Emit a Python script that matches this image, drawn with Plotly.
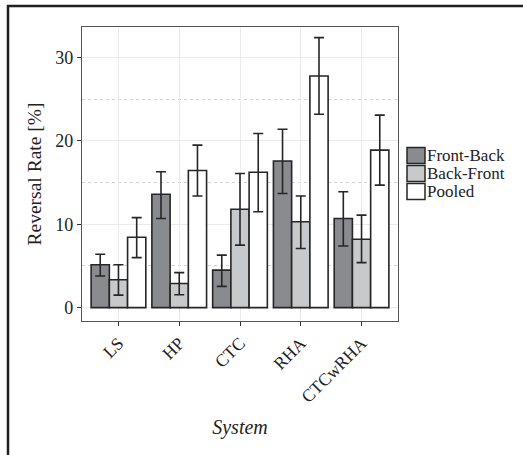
import plotly.graph_objects as go

systems = ["LS", "HP", "CTC", "RHA", "CTCwRHA"]
series_names = ["Front-Back", "Back-Front", "Pooled"]
front_back = [5.15, 13.6, 4.5, 17.6, 10.7]
front_back_hi = [6.4, 16.3, 6.3, 21.4, 13.9]
front_back_lo = [3.8, 10.7, 2.55, 13.7, 7.4]
back_front = [3.35, 2.9, 11.8, 10.3, 8.2]
back_front_hi = [5.15, 4.2, 16.1, 13.4, 11.1]
back_front_lo = [1.5, 1.55, 7.5, 7.1, 5.4]
pooled = [8.45, 16.45, 16.25, 27.8, 18.9]
pooled_hi = [10.8, 19.5, 20.9, 32.4, 23.1]
pooled_lo = [6.0, 13.4, 11.5, 23.2, 14.7]
y_ticks = [0, 10, 20, 30]

colors = ["#8a8b8f", "#c8c9cb", "#ffffff"]
W, H = 523, 455
ML, MR, MT, MB = 82, 125, 27, 134
FONT = "Liberation Serif"

fig = go.Figure()
data = [(front_back, front_back_hi, front_back_lo),
        (back_front, back_front_hi, back_front_lo),
        (pooled, pooled_hi, pooled_lo)]
for name, (vals, hi, lo), c in zip(series_names, data, colors):
    fig.add_trace(go.Bar(
        x=systems, y=vals, name=name, showlegend=False,
        marker=dict(color=c, line=dict(color="#262626", width=1.6)),
        error_y=dict(type="data", symmetric=False,
                     array=[h - v for h, v in zip(hi, vals)],
                     arrayminus=[v - l for v, l in zip(vals, lo)],
                     color="#262626", thickness=1.6, width=5),
    ))

fig.update_layout(
    width=W, height=H,
    margin=dict(l=ML, r=MR, t=MT, b=MB, pad=0),
    barmode="group", bargap=0.1, bargroupgap=0,
    paper_bgcolor="white", plot_bgcolor="white",
    font=dict(family=FONT, color="#222222", size=16),
    xaxis=dict(
        type="category", range=[-0.6, 4.6],
        showgrid=True, gridcolor="#ebebeb", gridwidth=1,
        showline=True, linecolor="#555555", linewidth=1.3, mirror=True,
        ticks="outside", ticklen=4, tickcolor="#333333",
        tickangle=-45, tickfont=dict(size=17.5, family=FONT, color="#222222"),
        title=dict(text="<i>System</i>", font=dict(size=20, family=FONT), standoff=14),
        zeroline=False,
    ),
    yaxis=dict(
        range=[-1.6, 33.67], tickvals=y_ticks,
        showgrid=True, gridcolor="#ebebeb", gridwidth=1,
        minor=dict(tickvals=[5, 15, 25], showgrid=True, gridcolor="#d4d4d4",
                   griddash="dot", gridwidth=1, ticks=""),
        showline=True, linecolor="#555555", linewidth=1.3, mirror=True,
        ticks="outside", ticklen=4, tickcolor="#333333",
        tickfont=dict(size=18, family=FONT, color="#222222"),
        title=dict(text="Reversal Rate [%]", font=dict(size=19.5, family=FONT), standoff=8),
        zeroline=False,
    ),
)

pw, ph = W - ML - MR, H - MT - MB
def px(x):
    return (x - ML) / pw
def py(y):
    return (H - MB - y) / ph

# frame (top and left edges)
fig.add_shape(type="line", xref="paper", yref="paper", x0=px(7), x1=px(523), y0=py(6), y1=py(6),
              line=dict(color="#231f20", width=2.5))
fig.add_shape(type="line", xref="paper", yref="paper", x0=px(8), x1=px(8), y0=py(5), y1=py(455),
              line=dict(color="#231f20", width=2.5))

# manual legend
leg_y = [155.5, 173.5, 191.5]
for name, c, yy in zip(series_names, colors, leg_y):
    fig.add_shape(type="rect", xref="paper", yref="paper",
                  x0=px(407), x1=px(425), y0=py(yy - 8), y1=py(yy + 8),
                  fillcolor=c, line=dict(color="#262626", width=1.5))
    fig.add_annotation(xref="paper", yref="paper", x=px(426), y=py(yy),
                       text=name, showarrow=False, xanchor="left", yanchor="middle",
                       borderpad=0,
                       font=dict(size=17, family=FONT, color="#222222"))

fig.write_html("out.html", config={"displayModeBar": False},
               post_script="document.body.style.margin='0';document.body.style.overflow='hidden';")
